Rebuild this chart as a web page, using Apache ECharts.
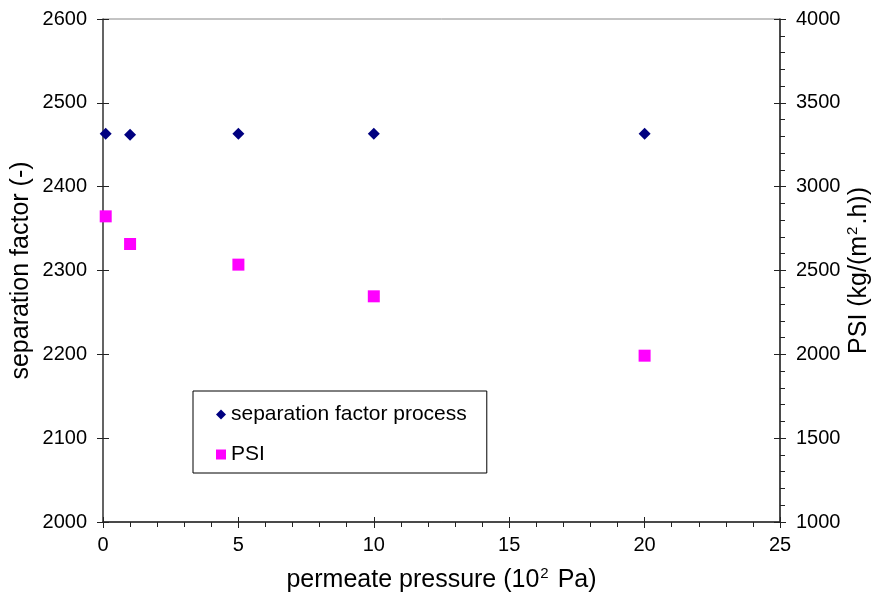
<!DOCTYPE html>
<html>
<head>
<meta charset="utf-8">
<script src="https://cdn.jsdelivr.net/npm/echarts@6/dist/echarts.min.js"></script>
<style>
  html, body { margin: 0; padding: 0; background: #fff; }
  #chart { width: 880px; height: 601px; }
</style>
</head>
<body>
<div id="chart"></div>
<script>
// data
var pressure = [0.1, 1, 5, 10, 20];
var separationFactor = [2463, 2462, 2463, 2463, 2463];
var psi = [2823, 2658, 2535, 2346, 1992];

var FONT = 'Arial, "Liberation Sans", sans-serif';

function pairs(xs, ys) {
  var res = [];
  for (var i = 0; i < xs.length; i++) res.push([xs[i], ys[i]]);
  return res;
}
function plain(v) { return String(v); }

var chart = echarts.init(document.getElementById("chart"));

var sup = { fontSize: 15, fontFamily: FONT, color: "#000", verticalAlign: "top", lineHeight: 12, padding: [0, 2, 0, 1] };
var titleStyle = { fontSize: 25, fontFamily: FONT, color: "#000", lineHeight: 28, rich: { sup: sup } };
var labelStyle = { fontSize: 20, fontFamily: FONT, color: "#000", formatter: plain };

var option = {
  backgroundColor: "#fff",
  animation: false,
  grid: {
    left: 103, right: 100, top: 19, bottom: 79,
    containLabel: false, outerBoundsMode: "none",
    show: true, borderColor: "#888", borderWidth: 1
  },
  legend: {
    orient: "vertical",
    left: 193, top: 391,
    padding: [13, 20, 8, 23],
    itemGap: 19,
    itemWidth: 10, itemHeight: 10,
    borderColor: "#000", borderWidth: 1,
    backgroundColor: "#fff",
    textStyle: { fontSize: 21, fontFamily: FONT, color: "#000" },
    data: [
      { name: "separation factor process", icon: "diamond" },
      { name: "PSI", icon: "rect" }
    ]
  },
  xAxis: [
    {
      type: "value", min: 0, max: 25, interval: 5,
      name: "permeate pressure (10{sup|2} Pa)",
      nameLocation: "middle", nameGap: 44, nameMoveOverlap: false,
      nameTextStyle: titleStyle,
      axisLine: { show: true, onZero: false, lineStyle: { color: "#222", width: 1.5 } },
      axisTick: { show: true, inside: false, length: 6, lineStyle: { color: "#222" } },
      minorTick: { show: true, splitNumber: 5, length: 5, lineStyle: { color: "#222" } },
      axisLabel: Object.assign({ margin: 13 }, labelStyle),
      splitLine: { show: false }
    },
    {
      type: "value", min: 0, max: 25, interval: 5, position: "bottom",
      axisLine: { show: false, onZero: false },
      axisTick: { show: true, inside: true, length: 5, lineStyle: { color: "#222" } },
      axisLabel: { show: false },
      splitLine: { show: false }
    }
  ],
  yAxis: [
    {
      type: "value", min: 2000, max: 2600, interval: 100, position: "left",
      name: "separation factor (-)",
      nameLocation: "middle", nameGap: 68, nameMoveOverlap: false,
      nameTextStyle: titleStyle,
      axisLine: { show: true, onZero: false, lineStyle: { color: "#444", width: 1.5 } },
      axisTick: { show: true, inside: false, length: 6, lineStyle: { color: "#222" } },
      axisLabel: Object.assign({ margin: 16 }, labelStyle),
      splitLine: { show: false }
    },
    {
      type: "value", min: 1000, max: 4000, interval: 500, position: "right",
      name: "PSI (kg/(m{sup|2}.h))",
      nameLocation: "middle", nameGap: 65, nameMoveOverlap: false,
      nameTextStyle: titleStyle,
      axisLine: { show: true, onZero: false, lineStyle: { color: "#222", width: 1.5 } },
      axisTick: { show: true, inside: false, length: 6, lineStyle: { color: "#222" } },
      minorTick: { show: true, splitNumber: 5, length: 5, lineStyle: { color: "#222" } },
      axisLabel: Object.assign({ margin: 16 }, labelStyle),
      splitLine: { show: false }
    },
    {
      // inner half of the crossing major ticks, left side
      type: "value", min: 2000, max: 2600, interval: 100, position: "left",
      axisLine: { show: false, onZero: false },
      axisTick: { show: true, inside: true, length: 6, lineStyle: { color: "#222" } },
      axisLabel: { show: false },
      splitLine: { show: false }
    },
    {
      // inner half of the crossing major ticks, right side
      type: "value", min: 1000, max: 4000, interval: 500, position: "right",
      axisLine: { show: false, onZero: false },
      axisTick: { show: true, inside: true, length: 6, lineStyle: { color: "#222" } },
      axisLabel: { show: false },
      splitLine: { show: false }
    }
  ],
  series: [
    {
      name: "separation factor process",
      type: "scatter",
      xAxisIndex: 0, yAxisIndex: 0,
      symbol: "diamond", symbolSize: 12,
      itemStyle: { color: "#000080", opacity: 1 },
      data: pairs(pressure, separationFactor)
    },
    {
      name: "PSI",
      type: "scatter",
      xAxisIndex: 0, yAxisIndex: 1,
      symbol: "rect", symbolSize: 12,
      itemStyle: { color: "#ff00ff", opacity: 1 },
      data: pairs(pressure, psi)
    }
  ]
};

chart.setOption(option);
</script>
</body>
</html>
